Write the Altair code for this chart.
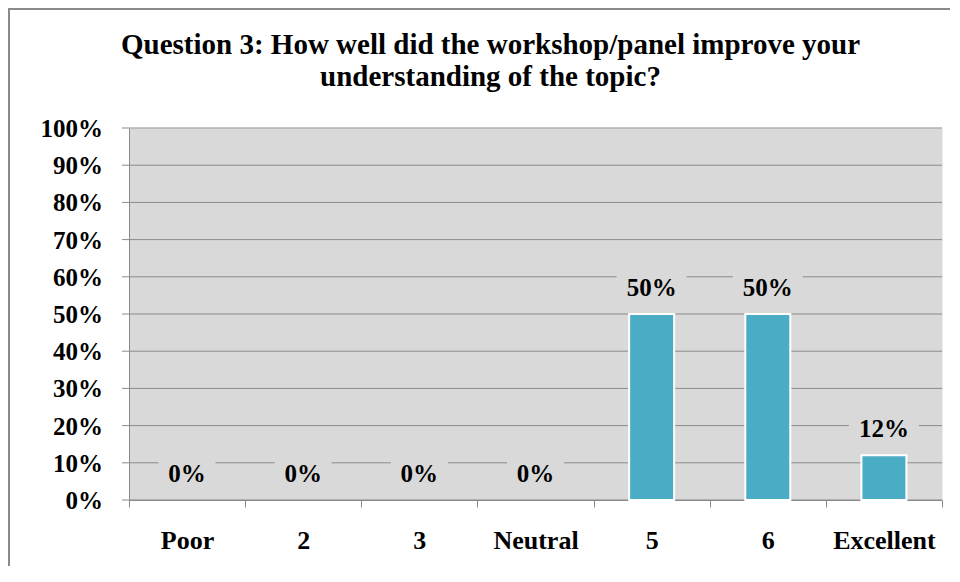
import altair as alt
import pandas as pd

categories = ["Poor", "2", "3", "Neutral", "5", "6", "Excellent"]
shares = [0.0, 0.0, 0.0, 0.0, 0.50, 0.50, 0.12]
labels = ["0%", "0%", "0%", "0%", "50%", "50%", "12%"]
y_ticks = [0.0, 0.1, 0.2, 0.3, 0.4, 0.5, 0.6, 0.7, 0.8, 0.9, 1.0]
y_tick_labels = ["0%", "10%", "20%", "30%", "40%", "50%", "60%", "70%", "80%", "90%", "100%"]
title_lines = ["Question 3: How well did the workshop/panel improve your",
               "understanding of the topic?"]

df = pd.DataFrame({"category": categories, "share": shares, "label": labels})
ticks_df = pd.DataFrame({"share": y_ticks, "tick_label": y_tick_labels})

W, H = 813, 372
FONT = "Liberation Serif"
GRID = "#8a8a8a"
PLOT_BG = "#d9d9d9"
BAR = "#4bacc6"

y_scale = alt.Scale(domain=[0, 1], nice=False)

x_enc = alt.X(
    "category:N", sort=categories,
    scale=alt.Scale(paddingInner=0, paddingOuter=0),
    axis=alt.Axis(title=None, labelAngle=0, tickBand="extent", grid=False,
                  labelFont=FONT, labelFontSize=26, labelFontWeight="bold",
                  labelColor="black", labelPadding=20, tickSize=7,
                  tickColor=GRID, domainColor=GRID, labelOverlap=False),
)
y_enc = alt.Y(
    "share:Q", scale=y_scale,
    axis=alt.Axis(title=None, labels=False, ticks=False, grid=False,
                  domainColor=GRID),
)

base = alt.Chart(df)

# horizontal gridlines at every tick value
grid = alt.Chart(ticks_df).mark_rule(color=GRID, strokeWidth=1).encode(y=y_enc)

bars = base.transform_filter("datum.share > 0").mark_bar(
    size=45, color=BAR, stroke="white", strokeWidth=2
).encode(x=x_enc, y=y_enc, y2=alt.datum(0))

boxes = base.transform_calculate(
    boxw="13 * length(datum.label) + 31"
).mark_bar(color=PLOT_BG, yOffset=-40, y2Offset=-12).encode(
    x=x_enc,
    y=y_enc,
    y2="share:Q",
    size=alt.Size("boxw:Q", scale=None, legend=None),
)

texts = base.mark_text(font=FONT, fontSize=25, fontWeight="bold", color="black",
                       dy=-18, baseline="alphabetic").encode(
    x=x_enc,
    y=y_enc,
    text="label:N",
)

# y-axis tick marks and labels
y_tickmarks = alt.Chart(ticks_df).mark_rule(color=GRID, strokeWidth=1, clip=False).encode(
    y=y_enc, x=alt.value(-7), x2=alt.value(0)
)
y_labels = alt.Chart(ticks_df).mark_text(
    font=FONT, fontSize=25, fontWeight="bold", color="black",
    align="right", baseline="middle", clip=False, dy=1
).encode(y=y_enc, x=alt.value(-26), text="tick_label:N")

frame_df = pd.DataFrame({"k": [0]})
border_left = alt.Chart(frame_df).mark_rule(
    color="#8a8a8a", strokeWidth=2, clip=False
).encode(x=alt.value(-120), y=alt.value(-120), y2=alt.value(H + 200))
border_top = alt.Chart(frame_df).mark_rule(
    color="#8a8a8a", strokeWidth=2, clip=False
).encode(x=alt.value(-121), x2=alt.value(W + 10), y=alt.value(-119))

chart = alt.layer(grid, bars, boxes, texts, y_tickmarks, y_labels,
                  border_left, border_top).properties(
    width=W, height=H,
    title=alt.Title(title_lines, font=FONT, fontSize=29, fontWeight="bold",
                    color="black", anchor="middle", frame="group", dx=-45,
                    lineHeight=32, offset=0, dy=108, baseline="alphabetic"),
    autosize=alt.AutoSizeParams(type="none"),
    padding={"left": 121, "top": 120, "right": 8, "bottom": 66},
    background="white",
).configure_view(fill=PLOT_BG, stroke="transparent")

chart.save("out.html", embed_options={"renderer": "svg", "actions": False})
